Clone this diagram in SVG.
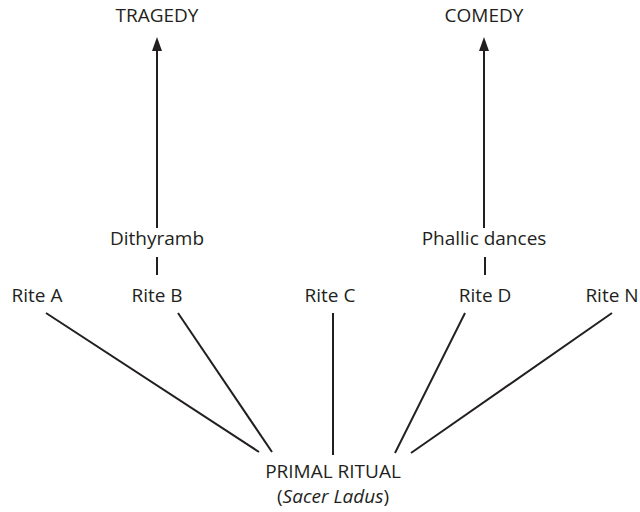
<svg xmlns="http://www.w3.org/2000/svg" width="640" height="512" viewBox="0 0 640 512">
<style>
text{font-family:"Open Sans","Noto Sans","DejaVu Sans",sans-serif;font-size:19px;fill:#231f20;text-anchor:middle}
.c line{stroke:#231f20;stroke-width:2}
.ah{fill:#231f20}
</style>
<rect width="640" height="512" fill="#fff"/>
<g class="c">
<line x1="157" y1="228" x2="157" y2="45"/>
<line x1="484" y1="228" x2="484" y2="45"/>
<line x1="157" y1="257" x2="157" y2="275"/>
<line x1="485" y1="257" x2="485" y2="275"/>
<line x1="46" y1="313" x2="259" y2="452"/>
<line x1="178" y1="313" x2="272" y2="452"/>
<line x1="333" y1="313" x2="333" y2="455"/>
<line x1="465" y1="313" x2="395" y2="453"/>
<line x1="612" y1="313" x2="411" y2="453"/>
<path class="ah" d="M157 37L162 51H152Z"/>
<path class="ah" d="M484 37L489 51H479Z"/>
</g>
<g id="tragedy"><text x="157" y="22">TRAGEDY</text></g>
<g id="comedy"><text x="484" y="22">COMEDY</text></g>
<g id="dithyramb"><text x="157" y="245">Dithyramb</text></g>
<g id="phallic"><text x="484" y="245">Phallic dances</text></g>
<g id="riteA"><text x="37" y="302">Rite A</text></g>
<g id="riteB"><text x="157" y="302">Rite B</text></g>
<g id="riteC"><text x="330" y="302">Rite C</text></g>
<g id="riteD"><text x="485" y="302">Rite D</text></g>
<g id="riteN"><text x="612" y="302">Rite N</text></g>
<g id="primal"><text x="333" y="478">PRIMAL RITUAL</text><text x="333" y="503">(<tspan font-style="italic">Sacer Ladus</tspan>)</text></g>
</svg>
